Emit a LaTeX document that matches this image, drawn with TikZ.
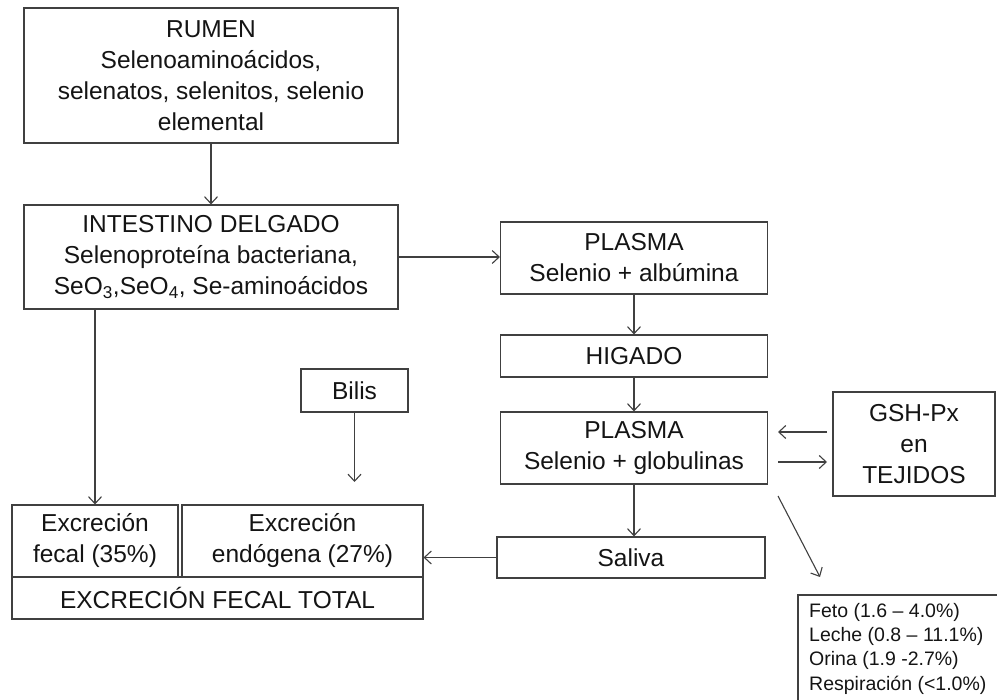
\documentclass[tikz,border=0pt]{standalone}
\usepackage{fontspec}
\setmainfont{Liberation Sans}
\usetikzlibrary{arrows.meta}
\begin{document}
\begin{tikzpicture}[x=1pt,y=-1pt,
  box/.style={draw=black!75, line width=1.1pt, align=center, inner sep=0pt,
    font=\fontsize{24.5}{31}\selectfont, text=black!92},
  arr/.style={draw=black!75, line width=1.1pt, -{Straight Barb[length=7pt,width=13pt]}},
  edge line/.style={draw=black!75, line width=1.1pt}]
\useasboundingbox (0,0) rectangle (997,700);

\node[box, minimum width=374pt, minimum height=135pt] (rumen) at (211,75.5)
  {RUMEN\\Selenoaminoácidos,\\selenatos, selenitos, selenio\\elemental};
\node[box, minimum width=374pt, minimum height=104pt] (intest) at (211,257)
  {INTESTINO DELGADO\\Selenoproteína bacteriana,\\SeO\textsubscript{3},SeO\textsubscript{4}, Se-aminoácidos};

\node[box, minimum width=267pt, minimum height=72pt] (plasmaA) at (634,258)
  {PLASMA\\Selenio + albúmina};
\node[box, minimum width=267pt, minimum height=42pt] (higado) at (634,356) {HIGADO};
\node[box, minimum width=267pt, minimum height=72pt] (plasmaB) at (634,448)
  {PLASMA\\Selenio + globulinas};
\node[box, minimum width=268pt, minimum height=41pt] (saliva) at (631,557.5) {Saliva};
\node[box, minimum width=162pt, minimum height=104pt] (gsh) at (914,444)
  {GSH-Px\\en\\TEJIDOS};
\node[box, minimum width=107pt, minimum height=43pt] (bilis) at (354.5,390.5) {Bilis};

\node[box, minimum width=166pt, minimum height=72pt] (fecal) at (95,541)
  {Excreción\\fecal (35\%)};
\node[box, minimum width=241pt, minimum height=72pt] (endo) at (302.5,541)
  {Excreción\\endógena (27\%)};
\node[box, minimum width=411pt, minimum height=42pt] (total) at (217.5,598)
  {EXCRECIÓN FECAL TOTAL};

\coordinate (bilisend) at (354.5,482);
\coordinate (gA) at (827,432);
\coordinate (gB) at (778,432);
\coordinate (gC) at (778,462);
\coordinate (gD) at (827,462);
\coordinate (dA) at (778,496);
\coordinate (dB) at (820,577);

\draw[arr] (rumen.south) -- (intest.north);
\draw[arr] (intest.east) -- (intest.east -| plasmaA.west);
\draw[arr] (plasmaA.south) -- (higado.north);
\draw[arr] (higado.south) -- (plasmaB.north);
\draw[arr] (plasmaB.south) -- (plasmaB.south |- saliva.north);
\draw[arr] (saliva.west) -- (saliva.west -| endo.east);
\draw[arr] (fecal.north |- intest.south) -- (fecal.north);
\draw[arr] (bilis.south) -- (bilisend);
\draw[arr] (gA) -- (gB);
\draw[arr] (gC) -- (gD);
\draw[arr] (dA) -- (dB);

\draw[edge line] (997,595) -| (798,700);
\node[anchor=north west, align=left, inner sep=0pt, text=black!92,
  font=\fontsize{19.5}{24.3}\selectfont] (list) at (809,603)
  {Feto (1.6 – 4.0\%)\\Leche (0.8 – 11.1\%)\\Orina (1.9 -2.7\%)\\Respiración (<1.0\%)};
\end{tikzpicture}
\end{document}
